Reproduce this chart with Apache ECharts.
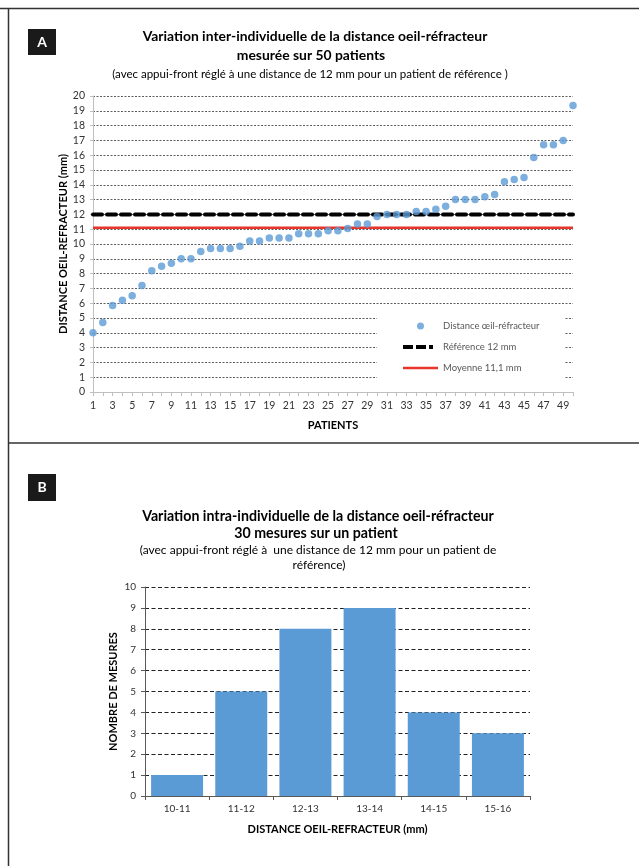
<!DOCTYPE html>
<html>
<head>
<meta charset="utf-8">
<script src="https://cdn.jsdelivr.net/npm/echarts@6/dist/echarts.min.js"></script>
<style>
html,body{margin:0;padding:0;background:#fff;}
#c{width:639px;height:866px;}
</style>
</head>
<body>
<div id="c"></div>
<script>
// ---- Data ----
const PATIENTS = ['1','2','3','4','5','6','7','8','9','10','11','12','13','14','15','16','17','18','19','20','21','22','23','24','25','26','27','28','29','30','31','32','33','34','35','36','37','38','39','40','41','42','43','44','45','46','47','48','49','50'];
const DISTANCES = [4.0,4.7,5.85,6.2,6.5,7.2,8.2,8.5,8.7,9.0,9.0,9.5,9.7,9.7,9.7,9.85,10.2,10.2,10.4,10.4,10.4,10.7,10.7,10.7,10.9,10.9,11.05,11.35,11.35,11.85,12.0,12.0,12.0,12.2,12.2,12.35,12.55,13.0,13.0,13.0,13.2,13.35,14.2,14.35,14.5,15.85,16.7,16.7,17.0,19.35];
const REFERENCE = 12;
const MEAN = 11.1;
const HIST_BINS = ['10-11','11-12','12-13','13-14','14-15','15-16'];
const HIST_COUNTS = [1,5,8,9,4,3];

const SERIES_NAMES = ['Distance œil-réfracteur','Référence 12 mm','Moyenne 11,1 mm'];

const FONT = 'Lato, "Open Sans", sans-serif';
const BLUE = '#5b9bd5';
const RED = '#e8352b';

const chart = echarts.init(document.getElementById('c'), null, {renderer:'canvas'});

function txt(x, y, text, size, bold){
  return {type:'text', x:x, y:y, z:100, style:{text:text, fill:'#000', font:(bold?'bold ':'')+size+'px '+FONT, textAlign:'center', textVerticalAlign:'middle'}};
}

// legend icons (35 x 7 boxes)
const ICON_DASH = 'path://M0,0L0,0M0,1.5h10v4h-10zM13,1.5h10v4h-10zM26,1.5h4v4h-4zM35,7L35,7';
const ICON_LINE = 'path://M0,0L0,0M0,2.3h35v2.4h-35zM35,7L35,7';

const option = {
  animation:false,
  backgroundColor:'#fff',
  textStyle:{fontFamily:FONT},
  graphic:[
    {type:'line', shape:{x1:0,y1:8.5,x2:639,y2:8.5}, style:{stroke:'#333', lineWidth:1.5}},
    {type:'line', shape:{x1:8.5,y1:8,x2:8.5,y2:866}, style:{stroke:'#333', lineWidth:1.5}},
    {type:'line', shape:{x1:8,y1:443,x2:639,y2:443}, style:{stroke:'#333', lineWidth:1.5}},
    {type:'rect', shape:{x:28,y:29,width:28,height:26}, style:{fill:'#1a1a1a'}},
    {type:'text', x:42, y:42, style:{text:'A', fill:'#fff', font:'bold 14px '+FONT, textAlign:'center', textVerticalAlign:'middle'}},
    {type:'rect', shape:{x:28,y:474,width:28,height:27}, style:{fill:'#1a1a1a'}},
    {type:'text', x:42, y:487.5, style:{text:'B', fill:'#fff', font:'bold 14px '+FONT, textAlign:'center', textVerticalAlign:'middle'}},
    txt(315, 37, 'Variation inter-individuelle de la distance oeil-réfracteur', 13.9, true),
    txt(311, 56, 'mesurée sur 50 patients', 13.9, true),
    txt(310, 74, '(avec appui-front réglé à une distance de 12 mm pour un patient de référence )', 11.5, false),
    txt(318, 516, 'Variation intra-individuelle de la distance oeil-réfracteur', 14.2, true),
    txt(316, 533, '30 mesures sur un patient', 14.2, true),
    txt(318, 550, '(avec appui-front réglé à  une distance de 12 mm pour un patient de', 12, false),
    txt(319, 565, 'référence)', 12, false)
  ],
  legend:{
    show:true,
    data:[
      {name:SERIES_NAMES[0], icon:'circle'},
      {name:SERIES_NAMES[1], icon:ICON_DASH},
      {name:SERIES_NAMES[2], icon:ICON_LINE}
    ],
    orient:'vertical',
    left:377, top:307,
    padding:[14,25,8,26],
    itemGap:11,
    itemWidth:35, itemHeight:7,
    backgroundColor:'#fff',
    textStyle:{color:'#595959', fontSize:9.5, fontFamily:FONT}
  },
  grid:[
    {left:93, top:96, width:480, height:296},
    {left:145, top:587, width:385, height:209}
  ],
  xAxis:[
    {
      gridIndex:0, type:'category', data:PATIENTS, boundaryGap:false,
      axisLine:{lineStyle:{color:'#bfbfbf', width:1}},
      axisTick:{show:true, interval:0, length:4, lineStyle:{color:'#bfbfbf'}},
      axisLabel:{interval:1, color:'#333', fontSize:10.5, margin:8, fontFamily:FONT},
      name:'PATIENTS', nameLocation:'middle', nameGap:28,
      nameTextStyle:{fontWeight:'bold', fontSize:11, color:'#000', fontFamily:FONT},
      splitLine:{show:false}
    },
    {
      gridIndex:1, type:'category', data:HIST_BINS,
      axisLine:{lineStyle:{color:'#595959', width:1}},
      axisTick:{show:true, length:4, lineStyle:{color:'#595959'}},
      axisLabel:{color:'#333', fontSize:10, margin:8, fontFamily:FONT},
      name:'DISTANCE OEIL-REFRACTEUR (mm)', nameLocation:'middle', nameGap:28,
      nameTextStyle:{fontWeight:'bold', fontSize:11, color:'#000', fontFamily:FONT}
    }
  ],
  yAxis:[
    {
      gridIndex:0, type:'value', min:0, max:20, interval:1,
      axisLine:{show:true, lineStyle:{color:'#bfbfbf'}},
      axisTick:{show:true, length:3, lineStyle:{color:'#bfbfbf'}},
      axisLabel:{color:'#333', fontSize:10.5, margin:8, fontFamily:FONT},
      splitLine:{show:true, lineStyle:{color:'#333', width:0.8, type:[2,1.5]}},
      name:'DISTANCE OEIL-REFRACTEUR (mm)', nameLocation:'middle', nameGap:24, nameRotate:90,
      nameMoveOverlap:false,
      nameTextStyle:{fontWeight:'bold', fontSize:11, color:'#000', fontFamily:FONT}
    },
    {
      gridIndex:1, type:'value', min:0, max:10, interval:1,
      axisLine:{show:true, lineStyle:{color:'#595959'}},
      axisTick:{show:true, length:4, lineStyle:{color:'#595959'}},
      axisLabel:{color:'#333', fontSize:10, margin:9, fontFamily:FONT},
      splitLine:{show:true, lineStyle:{color:'#222', width:1, type:[4,2.5]}},
      name:'NOMBRE DE MESURES', nameLocation:'middle', nameGap:26, nameRotate:90,
      nameMoveOverlap:false,
      nameTextStyle:{fontWeight:'bold', fontSize:11, color:'#000', fontFamily:FONT}
    }
  ],
  series:[
    {
      name:SERIES_NAMES[0], type:'scatter', xAxisIndex:0, yAxisIndex:0,
      data:DISTANCES, symbol:'circle', symbolSize:7.5,
      itemStyle:{color:BLUE}, z:5
    },
    {
      name:SERIES_NAMES[1], type:'line', xAxisIndex:0, yAxisIndex:0,
      data:PATIENTS.map(function(){return REFERENCE;}), symbol:'none',
      lineStyle:{color:'#000', width:4, type:[9,5], cap:'round'},
      itemStyle:{color:'#000'}, z:3
    },
    {
      name:SERIES_NAMES[2], type:'line', xAxisIndex:0, yAxisIndex:0,
      data:PATIENTS.map(function(){return MEAN;}), symbol:'none',
      lineStyle:{color:RED, width:2.5},
      itemStyle:{color:RED}, z:3
    },
    {
      name:'hist', type:'bar', xAxisIndex:1, yAxisIndex:1,
      data:HIST_COUNTS, barCategoryGap:'19%',
      itemStyle:{color:BLUE}
    }
  ]
};
chart.setOption(option);
</script>
</body>
</html>
